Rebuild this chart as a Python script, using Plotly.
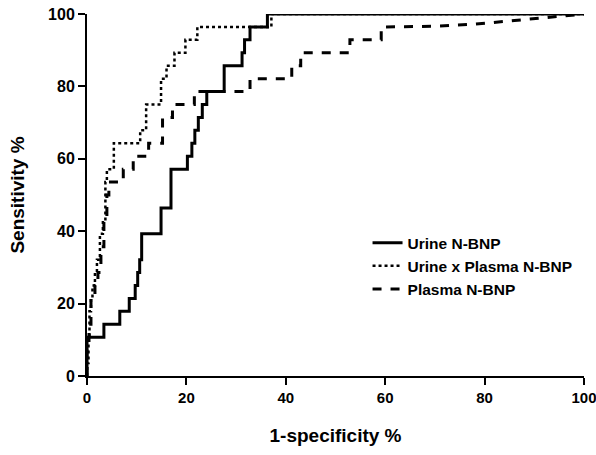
import plotly.graph_objects as go

# Urine N-BNP (solid)
urine_x = [0, 0, 3.4, 3.4, 6.6, 6.6, 8.5, 8.5, 9.7, 9.7, 10.2, 10.2, 10.6, 10.6, 11.0, 11.0,
           13.0, 13.0, 14.9, 14.9, 16.9, 16.9, 20.2, 20.2, 21.1, 21.1, 21.7, 21.7, 22.4, 22.4,
           23.2, 23.2, 24.1, 24.1, 27.6, 27.6, 31.2, 31.2, 31.7, 31.7, 32.8, 32.8, 36.3, 36.3, 100]
urine_y = [0, 10.7, 10.7, 14.3, 14.3, 17.9, 17.9, 21.4, 21.4, 25.0, 25.0, 28.6, 28.6, 32.1, 32.1, 39.3,
           39.3, 39.3, 39.3, 46.4, 46.4, 57.1, 57.1, 60.7, 60.7, 64.3, 64.3, 67.9, 67.9, 71.4,
           71.4, 75.0, 75.0, 78.6, 78.6, 85.7, 85.7, 89.3, 89.3, 92.9, 92.9, 96.4, 96.4, 100, 100]

# Urine x Plasma N-BNP (dotted)
combo_x = [0, 0, 0.3, 0.3, 0.5, 0.5, 0.8, 0.8, 1.1, 1.1, 1.6, 1.6, 2.0, 2.0, 2.6, 2.6, 3.2, 3.2,
           3.7, 3.7, 4.0, 4.0, 5.4, 5.4, 10.7, 10.7, 11.9, 11.9, 14.9, 14.9, 16.0, 16.0,
           17.6, 17.6, 19.8, 19.8, 22.2, 22.2, 37.1, 37.1, 100]
combo_y = [0, 3.6, 3.6, 10.7, 10.7, 17.9, 17.9, 21.4, 21.4, 25.0, 25.0, 28.6, 28.6, 32.1, 32.1, 39.3, 39.3, 42.9,
           42.9, 53.6, 53.6, 57.1, 57.1, 64.3, 64.3, 67.9, 67.9, 75.0, 75.0, 82.1, 82.1, 85.7,
           85.7, 89.3, 89.3, 92.9, 92.9, 96.4, 96.4, 100, 100]

# Plasma N-BNP (dashed)
plasma_x = [0, 0, 0.4, 0.4, 0.8, 0.8, 1.6, 1.6, 2.2, 2.2, 2.8, 2.8, 3.4, 3.4, 4.0, 4.0, 4.4, 4.4,
            7.3, 7.3, 9.3, 9.3, 12.4, 12.4, 15.2, 15.2, 17.2, 17.2, 21.6, 21.6, 32.8, 32.8,
            41.2, 41.2, 43.0, 43.0, 52.9, 52.9, 59.2, 59.2, 70, 78, 86, 93, 100]
plasma_y = [0, 7.1, 7.1, 14.3, 14.3, 21.4, 21.4, 25.0, 25.0, 28.6, 28.6, 35.7, 35.7, 42.9, 42.9, 50.0, 50.0, 53.6,
            53.6, 57.1, 57.1, 60.7, 60.7, 64.3, 64.3, 71.4, 71.4, 75.0, 75.0, 78.6, 78.6, 82.1,
            82.1, 85.7, 85.7, 89.3, 89.3, 92.9, 92.9, 96.4, 96.6, 97.2, 98.2, 99.2, 100]

tick_vals = [0, 20, 40, 60, 80, 100]

FONT = "Liberation Sans"

fig = go.Figure()
fig.add_trace(go.Scatter(x=urine_x, y=urine_y, mode="lines", name="Urine N-BNP",
                         line=dict(color="black", width=3, dash="solid"), cliponaxis=False))
fig.add_trace(go.Scatter(x=combo_x, y=combo_y, mode="lines", name="Urine x Plasma N-BNP",
                         line=dict(color="black", width=2.5, dash="dot"), cliponaxis=False))
fig.add_trace(go.Scatter(x=plasma_x, y=plasma_y, mode="lines", name="Plasma N-BNP",
                         line=dict(color="black", width=3, dash="dash"), cliponaxis=False))

axis_common = dict(
    showline=True, linecolor="black", linewidth=2,
    ticks="outside", ticklen=7, tickwidth=1.5, tickcolor="black",
    showgrid=False, zeroline=False, automargin=False,
    ticklabeloverflow="allow",
    tickvals=tick_vals,
)

fig.update_layout(
    width=596, height=455,
    margin=dict(l=87, r=12, t=14, b=79),
    plot_bgcolor="white", paper_bgcolor="white",
    xaxis=dict(range=[0, 100], title=dict(text="1-specificity %", standoff=24,
               font=dict(family=FONT, size=19, color="black", weight="bold")),
               tickfont=dict(family=FONT, size=15, color="black", weight="bold"), **axis_common),
    yaxis=dict(range=[0, 100], title=dict(text="Sensitivity %", standoff=18,
               font=dict(family=FONT, size=19, color="black", weight="bold")),
               tickfont=dict(family=FONT, size=16, color="black", weight="bold"), **axis_common),
    legend=dict(x=0.987, y=0.414, xanchor="right", yanchor="top", bgcolor="rgba(0,0,0,0)",
                font=dict(family=FONT, size=15.5, color="black", weight="bold")),
    showlegend=True,
)

fig.write_html("out.html", config={"displayModeBar": False},
               post_script="document.body.style.margin='0';")
